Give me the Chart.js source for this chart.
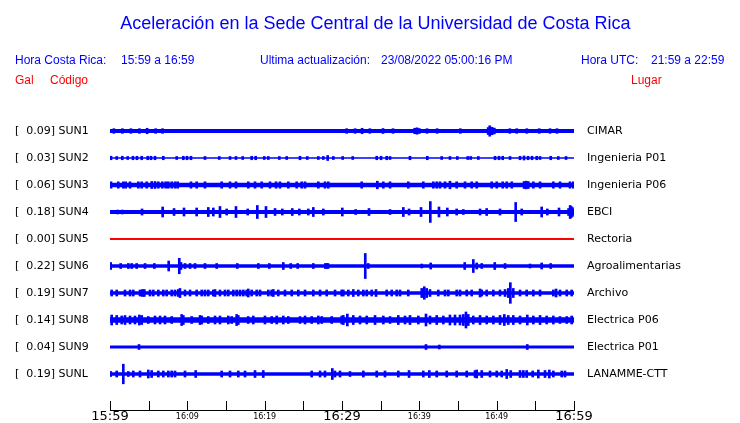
<!DOCTYPE html>
<html>
<head>
<meta charset="utf-8">
<title>Aceleración Sede Central UCR</title>
<script src="https://cdn.jsdelivr.net/npm/chart.js"></script>
<style>
    html, body { margin: 0; padding: 0; background: #fff; }
    #wrap { position: relative; width: 740px; height: 423px; overflow: hidden; }
    #wrap canvas { position: absolute; left: 0; top: 0; }
    .t { position: absolute; white-space: pre; font-family: "Liberation Sans", Arial, sans-serif; font-size: 12px; line-height: 12px; color: #0000ff; }
    .red { color: #ff0000; }
    #title { left: 0; width: 751px; text-align: center; font-size: 18px; line-height: 18px; top: 14px; }
</style>
</head>
<body>
<div id="wrap">
    <canvas id="chart" width="740" height="423"></canvas>
    <div class="t" id="title">Aceleración en la Sede Central de la Universidad de Costa Rica</div>
    <div class="t" style="left:15px;top:54px">Hora Costa Rica:</div>
    <div class="t" style="left:121px;top:54px">15:59 a 16:59</div>
    <div class="t" style="left:260px;top:54px">Ultima actualización:</div>
    <div class="t" style="left:381px;top:54px">23/08/2022 05:00:16 PM</div>
    <div class="t" style="left:581px;top:54px">Hora UTC:</div>
    <div class="t" style="left:651px;top:54px">21:59 a 22:59</div>
    <div class="t red" style="left:15px;top:74px">Gal</div>
    <div class="t red" style="left:50px;top:74px">Código</div>
    <div class="t red" style="left:631px;top:74px">Lugar</div>
</div>
<script>
// stations, top to bottom
const STATIONS = ['SUN1', 'SUN2', 'SUN3', 'SUN4', 'SUN5', 'SUN6', 'SUN7', 'SUN8', 'SUN9', 'SUNL'];
const PEAKS = [0.09, 0.03, 0.06, 0.18, 0.00, 0.22, 0.19, 0.14, 0.04, 0.19];
const PLACES = ['CIMAR', 'Ingenieria P01', 'Ingenieria P06', 'EBCI', 'Rectoria', 'Agroalimentarias', 'Archivo', 'Electrica P06', 'Electrica P01', 'LANAMME-CTT'];
// background noise level (gal) of each trace
const NOISE = [0.036, 0.011, 0.038, 0.034, 0, 0.029, 0.031, 0.047, 0.026, 0.029];

// bursts: [minutes after 15:59, amplitude in gal]
const SUN1_BURSTS = [
    [0.5, 0.04], [1.6, 0.04], [2.7, 0.04], [3.8, 0.04], [4.8, 0.047], [5.9, 0.04], [6.8, 0.04],
    [30.6, 0.04], [31.7, 0.04], [32.6, 0.047], [33.6, 0.04], [35.3, 0.043], [36.6, 0.04],
    [39.4, 0.047], [39.7, 0.055], [40.0, 0.043], [41.0, 0.04], [42.3, 0.04], [45.3, 0.04],
    [48.9, 0.06], [49.1, 0.09], [49.4, 0.065], [49.7, 0.05], [51.7, 0.04], [52.6, 0.04],
    [53.9, 0.04], [55.5, 0.04], [56.9, 0.04], [57.8, 0.04]
];
const SUN2_BURSTS = [
    [0.13, 0.03], [0.87, 0.026], [1.59, 0.03], [2.29, 0.026], [2.97, 0.03], [3.49, 0.03], [4.1, 0.03],
    [4.88, 0.03], [5.3, 0.03], [5.82, 0.03], [6.89, 0.03], [8.63, 0.026], [9.48, 0.03], [9.96, 0.03],
    [10.47, 0.03], [12.28, 0.026], [14.13, 0.026], [15.52, 0.026], [16.29, 0.026], [17.16, 0.026],
    [18.32, 0.03], [18.84, 0.03], [19.95, 0.026], [20.47, 0.026], [21.89, 0.026], [22.85, 0.026],
    [24.57, 0.03], [25.51, 0.026], [26.94, 0.026], [27.58, 0.026], [28.15, 0.043], [28.88, 0.026],
    [30.09, 0.026], [31.39, 0.026], [34.49, 0.03], [35.05, 0.03], [35.78, 0.03], [36.21, 0.026],
    [38.79, 0.03], [41.03, 0.03], [42.89, 0.026], [43.96, 0.026], [44.91, 0.026], [46.26, 0.026],
    [46.64, 0.026], [47.63, 0.026], [49.79, 0.03], [50.3, 0.03], [50.78, 0.03], [51.73, 0.026],
    [53.02, 0.03], [53.54, 0.035], [54.06, 0.03], [54.57, 0.03], [55.18, 0.03], [55.61, 0.026],
    [56.99, 0.03], [57.97, 0.026], [58.97, 0.026]
];
const SUN3_BURSTS = [
    [0.13, 0.055], [1.07, 0.055], [1.72, 0.055], [2.03, 0.055], [2.59, 0.055], [3.66, 0.055],
    [4.1, 0.055], [4.75, 0.055], [5.39, 0.06], [5.82, 0.06], [6.25, 0.055], [6.76, 0.055],
    [7.2, 0.055], [7.54, 0.055], [7.98, 0.055], [8.41, 0.055], [8.75, 0.055], [10.47, 0.055],
    [11.21, 0.055], [12.28, 0.055], [14.44, 0.055], [15.52, 0.055], [16.29, 0.055], [17.88, 0.055],
    [18.75, 0.055], [19.62, 0.055], [20.69, 0.055], [21.47, 0.055], [21.98, 0.055], [23.06, 0.055],
    [24.14, 0.055], [24.79, 0.055], [25.22, 0.055], [26.94, 0.055], [27.8, 0.055], [28.23, 0.055],
    [32.55, 0.055], [34.57, 0.065], [35.34, 0.055], [36.21, 0.055], [38.57, 0.055], [40.51, 0.055],
    [41.81, 0.055], [42.25, 0.055], [42.67, 0.055], [43.32, 0.055], [43.96, 0.065], [44.83, 0.055],
    [45.91, 0.055], [46.77, 0.055], [47.42, 0.055], [49.36, 0.055], [50.01, 0.055], [50.78, 0.055],
    [51.3, 0.055], [51.95, 0.055], [53.54, 0.06], [53.8, 0.066], [54.09, 0.06], [54.74, 0.055],
    [55.61, 0.055], [57.33, 0.055], [58.19, 0.055], [59.48, 0.055], [59.91, 0.055]
];
const SUN4_BURSTS = [
    [1.0, 0.034], [1.59, 0.034], [4.14, 0.052], [6.81, 0.086], [8.28, 0.06], [9.57, 0.069],
    [11.21, 0.069], [12.71, 0.078], [13.36, 0.069], [14.22, 0.095], [15.09, 0.052], [16.29, 0.095],
    [17.81, 0.052], [19.05, 0.112], [20.17, 0.095], [21.34, 0.06], [22.28, 0.052], [23.57, 0.06],
    [24.48, 0.052], [25.64, 0.052], [26.29, 0.078], [27.58, 0.052], [30.04, 0.069], [31.77, 0.043],
    [33.49, 0.06], [36.21, 0.043], [37.93, 0.078], [38.67, 0.052], [40.22, 0.078], [41.42, 0.18],
    [42.54, 0.086], [43.62, 0.069], [44.83, 0.052], [45.69, 0.043], [47.85, 0.052], [48.71, 0.06],
    [50.43, 0.052], [52.46, 0.164], [53.24, 0.052], [55.82, 0.086], [56.55, 0.052], [58.06, 0.069],
    [59.3, 0.06], [59.5, 0.112], [59.65, 0.095], [59.8, 0.075], [59.95, 0.05]
];
const SUN5_BURSTS = [];
const SUN6_BURSTS = [
    [0.09, 0.06], [1.38, 0.043], [2.37, 0.043], [2.81, 0.043], [3.45, 0.043], [4.53, 0.043],
    [5.73, 0.043], [7.59, 0.086], [8.96, 0.133], [9.18, 0.06], [9.7, 0.043], [10.35, 0.043],
    [10.99, 0.043], [12.28, 0.043], [13.8, 0.043], [16.46, 0.043], [19.18, 0.043], [20.6, 0.043],
    [22.41, 0.06], [23.37, 0.043], [24.27, 0.043], [26.29, 0.043], [27.85, 0.043], [28.02, 0.043],
    [28.2, 0.043], [33.01, 0.216], [33.4, 0.043], [40.31, 0.034], [41.47, 0.052], [45.87, 0.06],
    [46.98, 0.112], [47.42, 0.052], [48.07, 0.043], [49.75, 0.06], [51.08, 0.043], [54.31, 0.034],
    [55.82, 0.052], [56.99, 0.043]
];
const SUN7_BURSTS = [
    [0.22, 0.052], [0.87, 0.052], [1.94, 0.052], [2.59, 0.052], [3.01, 0.052], [3.88, 0.052],
    [4.18, 0.06], [4.44, 0.06], [5.17, 0.052], [5.6, 0.052], [6.25, 0.052], [6.89, 0.052],
    [7.33, 0.052], [7.98, 0.052], [8.41, 0.052], [8.83, 0.06], [9.05, 0.078], [9.7, 0.052],
    [10.35, 0.052], [11.21, 0.052], [11.86, 0.052], [12.28, 0.052], [12.71, 0.052], [13.36, 0.052],
    [13.58, 0.06], [14.22, 0.052], [14.87, 0.052], [15.3, 0.052], [15.94, 0.052], [16.38, 0.052],
    [16.81, 0.052], [17.24, 0.052], [17.68, 0.052], [17.88, 0.069], [18.32, 0.052], [18.97, 0.052],
    [19.4, 0.052], [20.47, 0.052], [20.91, 0.052], [21.12, 0.06], [21.76, 0.052], [22.63, 0.052],
    [23.5, 0.052], [24.35, 0.052], [25.22, 0.052], [26.29, 0.052], [27.16, 0.052], [28.02, 0.052],
    [29.1, 0.052], [29.96, 0.052], [30.17, 0.052], [30.82, 0.052], [31.46, 0.06], [32.11, 0.052],
    [32.76, 0.052], [33.2, 0.052], [33.84, 0.052], [34.4, 0.06], [35.78, 0.052], [36.43, 0.052],
    [37.07, 0.052], [37.5, 0.052], [38.57, 0.052], [40.31, 0.078], [40.64, 0.108], [40.95, 0.078],
    [41.38, 0.06], [42.45, 0.052], [43.32, 0.052], [43.75, 0.052], [44.83, 0.052], [45.26, 0.052],
    [46.13, 0.052], [46.77, 0.052], [47.85, 0.069], [48.07, 0.052], [48.71, 0.052], [49.57, 0.052],
    [50.43, 0.052], [51.08, 0.06], [51.5, 0.078], [51.77, 0.178], [52.15, 0.078], [53.02, 0.052],
    [53.88, 0.052], [54.74, 0.052], [55.61, 0.052], [57.33, 0.052], [57.68, 0.069], [58.19, 0.052],
    [59.06, 0.052], [59.7, 0.052]
];
const SUN8_BURSTS = [
    [0.22, 0.086], [0.87, 0.078], [1.51, 0.069], [1.94, 0.078], [2.59, 0.069], [3.23, 0.069],
    [3.79, 0.086], [4.1, 0.078], [4.95, 0.06], [5.82, 0.069], [6.47, 0.069], [7.11, 0.069],
    [7.98, 0.06], [9.27, 0.095], [9.48, 0.078], [10.56, 0.06], [11.64, 0.078], [11.86, 0.069],
    [12.71, 0.06], [13.58, 0.069], [14.22, 0.069], [15.3, 0.069], [15.74, 0.06], [16.38, 0.095],
    [16.59, 0.078], [17.88, 0.06], [18.53, 0.069], [20.04, 0.069], [20.91, 0.06], [21.56, 0.069],
    [22.41, 0.069], [23.06, 0.06], [24.57, 0.06], [25.22, 0.069], [26.08, 0.06], [26.94, 0.069],
    [27.38, 0.06], [28.67, 0.06], [29.96, 0.069], [30.17, 0.078], [30.69, 0.103], [31.46, 0.078],
    [32.33, 0.069], [33.2, 0.069], [34.27, 0.078], [35.34, 0.069], [36.21, 0.06], [37.28, 0.078],
    [38.15, 0.069], [38.79, 0.078], [39.87, 0.069], [40.86, 0.103], [41.38, 0.069], [42.25, 0.078],
    [43.1, 0.069], [43.96, 0.086], [44.61, 0.086], [45.26, 0.086], [45.69, 0.095], [46.03, 0.138],
    [46.33, 0.095], [46.98, 0.069], [47.85, 0.078], [48.71, 0.069], [49.57, 0.069], [50.43, 0.078],
    [50.99, 0.095], [51.5, 0.078], [52.15, 0.078], [53.02, 0.069], [53.96, 0.086], [54.74, 0.069],
    [55.61, 0.078], [56.47, 0.069], [57.33, 0.069], [58.19, 0.06], [59.06, 0.06], [59.7, 0.069]
];
const SUN9_BURSTS = [[3.75, 0.043], [40.86, 0.043], [42.58, 0.034], [53.96, 0.043]];
const SUNL_BURSTS = [
    [0.09, 0.043], [0.87, 0.052], [1.72, 0.169], [2.37, 0.043], [3.01, 0.052], [3.88, 0.052],
    [4.95, 0.069], [5.39, 0.06], [6.25, 0.052], [6.89, 0.052], [7.54, 0.052], [7.98, 0.052],
    [8.41, 0.052], [9.7, 0.052], [11.08, 0.06], [14.44, 0.052], [15.52, 0.052], [16.59, 0.052],
    [17.46, 0.052], [18.75, 0.06], [19.82, 0.06], [26.08, 0.052], [27.16, 0.052], [27.8, 0.052],
    [28.75, 0.095], [29.09, 0.052], [29.74, 0.052], [31.03, 0.043], [32.76, 0.052], [34.49, 0.052],
    [35.56, 0.052], [37.28, 0.052], [38.67, 0.06], [40.51, 0.052], [41.29, 0.06], [42.25, 0.052],
    [43.54, 0.052], [44.83, 0.052], [46.13, 0.052], [47.2, 0.06], [47.42, 0.069], [48.07, 0.06],
    [49.14, 0.052], [50.01, 0.052], [50.65, 0.052], [51.3, 0.078], [51.82, 0.06], [53.02, 0.06],
    [53.45, 0.06], [53.88, 0.06], [54.66, 0.052], [55.39, 0.069], [56.25, 0.06], [56.81, 0.069],
    [57.33, 0.052], [58.41, 0.052], [58.84, 0.052]
];
const BURSTS = [SUN1_BURSTS, SUN2_BURSTS, SUN3_BURSTS, SUN4_BURSTS, SUN5_BURSTS,
    SUN6_BURSTS, SUN7_BURSTS, SUN8_BURSTS, SUN9_BURSTS, SUNL_BURSTS];

// x axis: minutes 0..60, a tick every 5 minutes
const TICK_LABELS = ['15:59', '', '16:09', '', '16:19', '', '16:29', '', '16:39', '', '16:49', '', '16:59'];
const BIG_TICKS = ['15:59', '16:29', '16:59'];

const ROW_GAL = 0.465;   // gal between two traces
const BLUE = '#0000ff';
const RED = '#ff0000';

const datasets = [];
STATIONS.forEach((code, i) => {
    const n = NOISE[i] / ROW_GAL;
    if (NOISE[i] === 0) {
        datasets.push({
            type: 'line', data: [{ x: 0, y: i }, { x: 60, y: i }],
            borderColor: RED, borderWidth: 2, pointRadius: 0, fill: false
        });
    } else {
        datasets.push({
            type: 'line', data: [{ x: 0, y: i - n }, { x: 60, y: i - n }],
            borderColor: 'rgba(0,0,0,0)', borderWidth: 0, pointRadius: 0,
            backgroundColor: BLUE, fill: { value: i + n }
        });
    }
    datasets.push({
        type: 'bar',
        data: BURSTS[i].map(([t, a]) => ({ x: t, y: [i - a / ROW_GAL, i + a / ROW_GAL] })),
        backgroundColor: BLUE, barThickness: 2, grouped: false
    });
});

// tick marks point up into the plot
const upTicks = {
    id: 'upTicks',
    afterDraw(chart) {
        const s = chart.scales.x;
        const ctx = chart.ctx;
        const bottom = chart.chartArea.bottom;
        ctx.save();
        ctx.strokeStyle = '#000';
        ctx.lineWidth = 1;
        s.ticks.forEach(t => {
            const px = Math.round(s.getPixelForValue(t.value)) + 0.5;
            ctx.beginPath();
            ctx.moveTo(px, bottom);
            ctx.lineTo(px, bottom - 9);
            ctx.stroke();
        });
        ctx.restore();
    }
};

const rowTicks = s => { s.ticks = STATIONS.map((_, i) => ({ value: i })); };
const fixRow = w => s => { s.width = w; s.paddingTop = 0; s.paddingBottom = 0; };

new Chart(document.getElementById('chart'), {
    type: 'bar',
    data: { datasets },
    plugins: [upTicks],
    options: {
        responsive: false,
        animation: false,
        devicePixelRatio: 1,
        layout: { padding: { left: 15, top: 104, right: 0, bottom: 0 } },
        plugins: { legend: { display: false }, tooltip: { enabled: false }, title: { display: false } },
        scales: {
            x: {
                type: 'linear', min: 0, max: 60, offset: false,
                grid: { display: true, drawOnChartArea: false, drawTicks: false },
                border: { display: true, color: '#000', width: 1 },
                ticks: {
                    stepSize: 5, autoSkip: false, maxTicksLimit: 20, maxRotation: 0, padding: 0, color: '#000',
                    callback: (v, idx) => TICK_LABELS[idx],
                    font: ctx => BIG_TICKS.includes(TICK_LABELS[ctx.index])
                        ? { family: 'DejaVu Sans', size: 13, lineHeight: '14px' }
                        : { family: 'DejaVu Sans', size: 8, lineHeight: '14px' }
                },
                afterFit: s => { s.height = 13; s.paddingLeft = 0; s.paddingRight = 0; }
            },
            y: {
                type: 'linear', position: 'left', reverse: true, min: -1, max: 10 + 1 / 3,
                grid: { display: false, drawTicks: false }, border: { display: false },
                afterBuildTicks: rowTicks,
                afterFit: fixRow(95),
                ticks: {
                    crossAlign: 'far', padding: 0, color: '#000',
                    font: { family: 'DejaVu Sans', size: 11 },
                    callback: v => `[  ${PEAKS[v].toFixed(2)}] ${STATIONS[v]}`
                }
            },
            y2: {
                type: 'linear', position: 'right', reverse: true, min: -1, max: 10 + 1 / 3,
                grid: { display: false, drawTicks: false }, border: { display: false },
                afterBuildTicks: rowTicks,
                afterFit: fixRow(166),
                ticks: {
                    crossAlign: 'near', padding: 13, color: '#000',
                    font: { family: 'DejaVu Sans', size: 11 },
                    callback: v => PLACES[v]
                }
            }
        }
    }
});
</script>
</body>
</html>
